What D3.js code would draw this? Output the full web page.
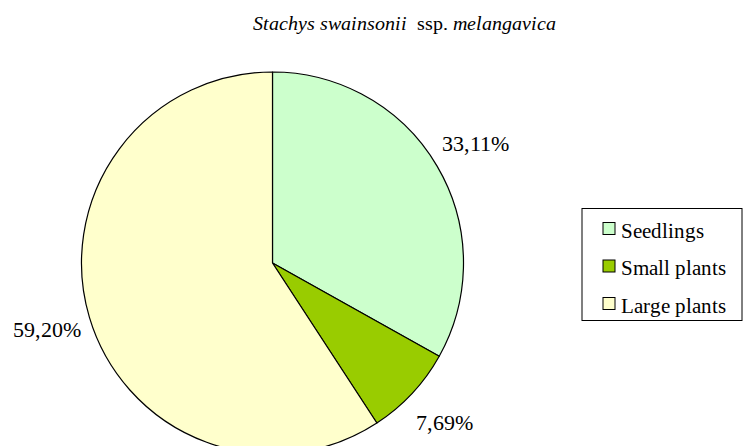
<!DOCTYPE html>
<html>
<head>
<meta charset="utf-8">
<script src="https://cdn.jsdelivr.net/npm/d3@7"></script>
<style>
  @font-face { font-family: "ChartSerif"; font-style: normal; font-weight: 400;
    src: local("Liberation Serif"), local("LiberationSerif"), local("Times New Roman"), local("Tinos"); }
  @font-face { font-family: "ChartSerif"; font-style: italic; font-weight: 400;
    src: local("Liberation Serif Italic"), local("LiberationSerif-Italic"), local("Times New Roman Italic"), local("Tinos Italic"); }
  body { margin: 0; }
</style>
</head>
<body>
<script>
// values
const categories = ["Seedlings", "Small plants", "Large plants"];
const shares = [33.11, 7.69, 59.20];
const labels = ["33,11%", "7,69%", "59,20%"];
const colors = ["#CCFFCC", "#99CC00", "#FFFFCC"];

const width = 743, height = 446;
const cx = 272.5, cy = 263, radius = 191;
const fam = '"ChartSerif", "Liberation Serif", "Times New Roman", serif';

const svg = d3.select("body")
  .append("svg")
  .attr("width", width)
  .attr("height", height);

// title, mixed italic / upright
const title = svg.append("text")
  .attr("x", 404)
  .attr("y", 30)
  .attr("text-anchor", "middle")
  .style("font-size", "20px")
  .style("font-family", fam);
title.append("tspan").style("font-style", "italic").text("Stachys swainsonii");
title.append("tspan").text("\u00a0 ssp. ");
title.append("tspan").style("font-style", "italic").text("melangavica");

const pie = d3.pie().sort(null).value(d => d);
const arcs = pie(shares);

const arc = d3.arc().innerRadius(0).outerRadius(radius);
const labelArc = d3.arc().innerRadius(235).outerRadius(235);

const g = svg.append("g").attr("transform", `translate(${cx},${cy})`);

g.selectAll("path")
  .data(arcs)
  .enter().append("path")
  .attr("d", arc)
  .attr("fill", (d, i) => colors[i])
  .attr("stroke", "#000")
  .attr("stroke-width", 1.2)
  .attr("stroke-linejoin", "round");

g.selectAll("text.pct")
  .data(arcs)
  .enter().append("text")
  .attr("class", "pct")
  .attr("x", d => labelArc.centroid(d)[0])
  .attr("y", d => labelArc.centroid(d)[1] + 7)
  .attr("text-anchor", "middle")
  .style("font-size", "21.5px")
  .style("font-family", fam)
  .text((d, i) => labels[i]);

// legend
const legend = svg.append("g").attr("transform", "translate(582,208.5)");
legend.append("rect")
  .attr("x", 0).attr("y", 0)
  .attr("width", 160).attr("height", 112)
  .attr("fill", "#fff")
  .attr("stroke", "#000")
  .attr("stroke-width", 1);

const item = legend.selectAll("g.item")
  .data(categories)
  .enter().append("g")
  .attr("class", "item")
  .attr("transform", (d, i) => `translate(21,${14 + i * 37.5})`);

item.append("rect")
  .attr("width", 12).attr("height", 12)
  .attr("fill", (d, i) => colors[i])
  .attr("stroke", "#000")
  .attr("stroke-width", 1);

item.append("text")
  .attr("x", 18)
  .attr("y", 15)
  .style("font-size", "21px")
  .style("font-family", fam)
  .text(d => d);
</script>
</body>
</html>
